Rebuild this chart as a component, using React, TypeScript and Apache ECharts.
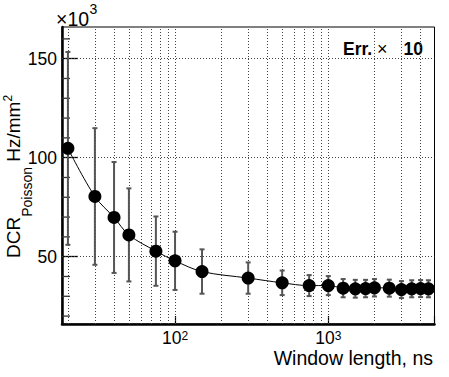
import React, { useEffect, useRef } from "react";
import * as echarts from "echarts";

// Window length (ns) and DCR (x10^3 Hz/mm^2), errors already scaled x10
const windowLength = [20, 30, 40, 50, 75, 100, 150, 300, 500, 750, 1000, 1250, 1500, 1750, 2000, 2500, 3000, 3500, 4000, 4500];
const dcr = [104.7, 80.4, 69.8, 61.0, 52.8, 47.9, 42.5, 39.2, 36.8, 35.4, 35.4, 34.1, 33.8, 33.9, 34.3, 34.1, 33.4, 33.8, 33.9, 33.8];
const dcrErr = [48.7, 34.5, 28.0, 23.5, 17.5, 14.7, 11.2, 7.9, 6.2, 5.3, 4.8, 4.6, 4.5, 4.4, 4.4, 4.3, 4.3, 4.3, 4.3, 4.3];

const xGridValues = [20, 30, 40, 50, 60, 70, 80, 90, 100, 200, 300, 400, 500, 600, 700, 800, 900, 1000, 2000, 3000, 4000];
const yGridValues = [50, 100, 150];
const yMinorTickValues = [20, 30, 40, 60, 70, 80, 90, 110, 120, 130, 140, 160];

const X_MIN = 18.3;
const X_MAX = 4930;
const Y_MIN = 16;
const Y_MAX = 166;

const FONT = "Liberation Sans, Arial, Helvetica, sans-serif";
const F = (size: number, bold = false) => `${bold ? "bold " : ""}${size}px ${FONT}`;

function measure(text: string, font: string): number {
  const c = document.createElement("canvas").getContext("2d");
  if (!c) return text.length * 10;
  c.font = font;
  return c.measureText(text).width;
}

export default function App() {
  const ref = useRef<HTMLDivElement>(null);

  useEffect(() => {
    if (!ref.current) return;
    const chart = echarts.init(ref.current, undefined, { renderer: "svg" });

    const gridDotted = { color: "#444", type: [1, 2] as any, width: 1 };

    // y-axis title pieces (rotated, reading bottom to top)
    const tMain = F(19);
    const tSub = F(14);
    const tSup = F(12);
    const yTitleX = 13;
    const yTitleBottom = 258;
    const wDCR = measure("DCR", tMain);
    const wPoisson = measure("Poisson", tSub);
    const wHz = measure(" Hz/mm", tMain);
    const y2 = yTitleBottom - wDCR;
    const y3 = y2 - wPoisson;
    const y4 = y3 - wHz;

    const expMain = F(19.5);
    const wTimes10 = measure("×10", expMain);

    const rot = (text: string, font: string, x: number, y: number) => ({
      type: "text",
      x,
      y,
      rotation: Math.PI / 2,
      style: { text, font, fill: "#000", align: "left", verticalAlign: "middle" },
    });

    const option: any = {
      animation: false,
      backgroundColor: "#fff",
      grid: {
        left: 62,
        top: 27,
        right: 14.5,
        bottom: 53,
        show: true,
        borderColor: "#000",
        borderWidth: 1,
        backgroundColor: "transparent",
      },
      xAxis: {
        type: "log",
        logBase: 10,
        min: X_MIN,
        max: X_MAX,
        axisLine: { show: true, lineStyle: { color: "#000", width: 2.5 } },
        axisTick: { show: true, inside: true, length: 8, lineStyle: { color: "#000", width: 1.2 } },
        splitLine: { show: false },
        axisLabel: {
          show: true,
          margin: 6,
          color: "#000",
          fontFamily: FONT,
          fontSize: 17.5,
          lineHeight: 16,
          formatter: (v: number) => {
            const l = Math.log10(v);
            const e = Math.round(l);
            if (Math.abs(l - e) > 1e-6) return "";
            return `{m|10}{sup|${e}}`;
          },
          rich: {
            m: { fontSize: 17.5, lineHeight: 16, color: "#000", fontFamily: FONT },
            sup: { fontSize: 12, lineHeight: 9, verticalAlign: "top", color: "#000", fontFamily: FONT },
          },
        },
      },
      yAxis: {
        type: "value",
        min: Y_MIN,
        max: Y_MAX,
        minInterval: 50,
        maxInterval: 50,
        axisLine: { show: true, lineStyle: { color: "#000", width: 2.5 } },
        axisTick: { show: true, inside: true, length: 16, lineStyle: { color: "#000", width: 1.3 } },
        splitLine: { show: false },
        axisLabel: {
          show: true,
          margin: 5,
          color: "#000",
          fontFamily: FONT,
          fontSize: 17.5,
          showMinLabel: false,
          showMaxLabel: false,
          formatter: (v: number) => (v % 50 === 0 ? String(v) : ""),
        },
      },
      graphic: [
        {
          type: "text",
          x: 56,
          y: 18.5,
          style: { text: "×10", font: expMain, fill: "#000", align: "left", verticalAlign: "middle" },
        },
        {
          type: "text",
          x: 56 + wTimes10 + 0.5,
          y: 8.5,
          style: { text: "3", font: F(14), fill: "#000", align: "left", verticalAlign: "middle" },
        },
        {
          type: "text",
          x: 343,
          y: 49,
          style: {
            text: "{b|Err.} {n|×}{b|10}",
            fill: "#000",
            font: F(17),
            align: "left",
            verticalAlign: "middle",
            rich: {
              b: { font: F(17.5, true), fill: "#000" },
              n: { font: F(18), fill: "#000", padding: [0, 16, 0, 0] },
            },
          },
        },
        {
          type: "text",
          x: 433,
          y: 357.5,
          style: {
            text: "Window length, ns",
            fill: "#000",
            font: F(19.5),
            align: "right",
            verticalAlign: "middle",
          },
        },
        rot("DCR", tMain, yTitleX, yTitleBottom),
        rot("Poisson", tSub, yTitleX + 13.7, y2),
        rot(" Hz/mm", tMain, yTitleX, y3),
        rot("2", tSup, yTitleX - 5, y4),
      ],
      series: [
        {
          name: "fit",
          type: "line",
          data: windowLength.map((x, i) => [x, dcr[i]]),
          smooth: 0.35,
          showSymbol: false,
          symbol: "none",
          lineStyle: { color: "#000", width: 1 },
          z: 2,
          silent: true,
          markLine: {
            silent: true,
            symbol: "none",
            label: { show: false },
            lineStyle: gridDotted,
            z: 1,
            data: [
              ...xGridValues.map((v) => ({ xAxis: v })),
              ...yGridValues.map((v) => ({ yAxis: v })),
            ],
          },
        },
        {
          name: "yMinorTicks",
          type: "scatter",
          data: yMinorTickValues.map((v) => [X_MIN, v]),
          symbol: "rect",
          symbolSize: [8, 1.3],
          symbolOffset: [4, 0],
          itemStyle: { color: "#333", opacity: 1 },
          clip: false,
          silent: true,
          z: 3,
        },
        {
          name: "errors",
          type: "custom",
          data: windowLength.map((x, i) => [x, dcr[i], dcrErr[i]]),
          encode: { x: 0, y: 1 },
          z: 4,
          silent: true,
          renderItem: (params: any, api: any) => {
            const x = api.value(0);
            const y = api.value(1);
            const e = api.value(2);
            const top = api.coord([x, y + e]);
            const bot = api.coord([x, y - e]);
            const c = 2.5;
            const st = { stroke: "#555", lineWidth: 2 };
            return {
              type: "group",
              children: [
                { type: "line", shape: { x1: top[0], y1: top[1], x2: bot[0], y2: bot[1] }, style: st },
                { type: "line", shape: { x1: top[0] - c, y1: top[1], x2: top[0] + c, y2: top[1] }, style: st },
                { type: "line", shape: { x1: bot[0] - c, y1: bot[1], x2: bot[0] + c, y2: bot[1] }, style: st },
              ],
            };
          },
        },
        {
          name: "DCR",
          type: "scatter",
          data: windowLength.map((x, i) => [x, dcr[i]]),
          symbol: "circle",
          symbolSize: 13,
          itemStyle: { color: "#000", opacity: 1 },
          z: 5,
        },
      ],
    };

    chart.setOption(option);
    return () => chart.dispose();
  }, []);

  return (
    <div
      ref={ref}
      style={{ position: "fixed", left: 0, top: 0, width: 449, height: 377, background: "#fff" }}
    />
  );
}
